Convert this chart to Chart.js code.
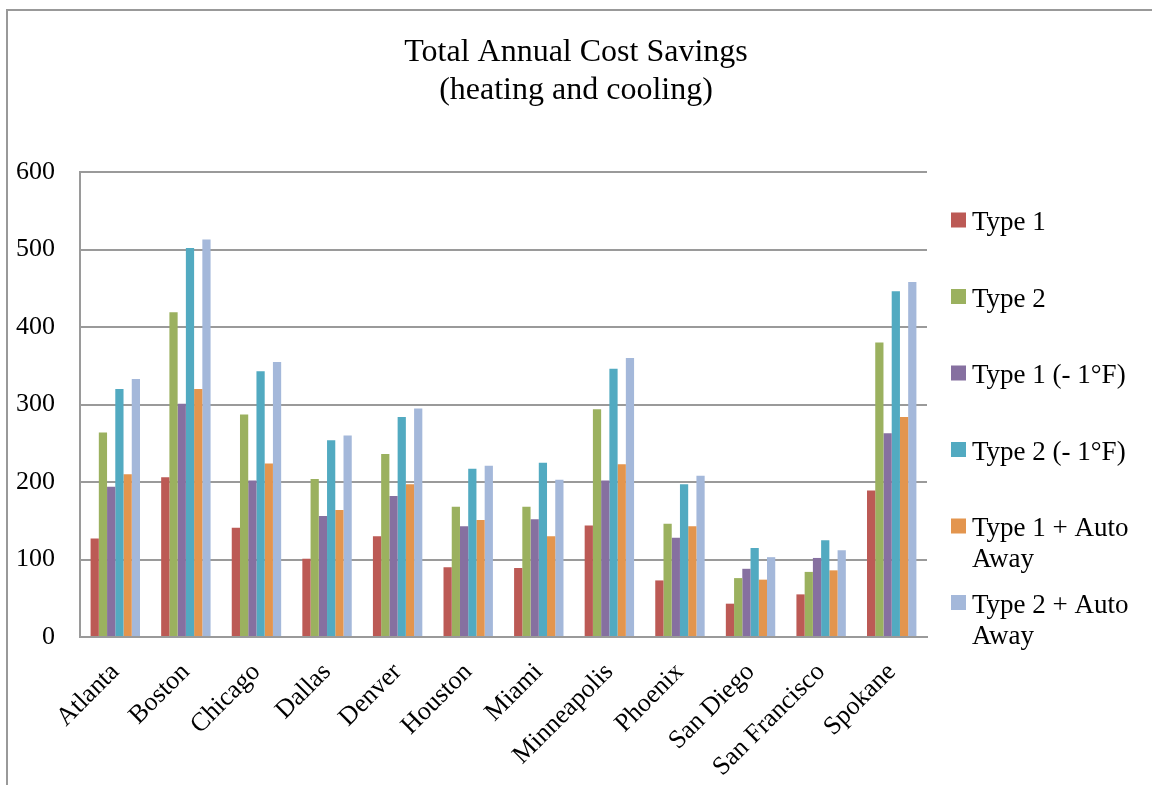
<!DOCTYPE html>
<html>
<head>
<meta charset="utf-8">
<title>Total Annual Cost Savings</title>
<script src="https://cdn.jsdelivr.net/npm/chart.js@4.4.1/dist/chart.umd.min.js"></script>
<style>
  html, body { margin: 0; padding: 0; background: #ffffff; overflow: hidden; }
  #wrap { position: relative; width: 1152px; height: 785px; }
</style>
</head>
<body>
<div id="wrap"><canvas id="chart" width="1152" height="785"></canvas></div>
<script>
// City categories along the x axis
const cities = ['Atlanta', 'Boston', 'Chicago', 'Dallas', 'Denver', 'Houston',
                'Miami', 'Minneapolis', 'Phoenix', 'San Diego', 'San Francisco', 'Spokane'];

// Series names
const seriesNames = ['Type 1', 'Type 2', 'Type 1 (- 1°F)', 'Type 2 (- 1°F)',
                     'Type 1 + Auto Away', 'Type 2 + Auto Away'];

// Annual savings per city, one array per series
const type1          = [127, 206, 141, 101, 130,  90,  89, 144,  73,  43,  55, 189];
const type2          = [264, 419, 287, 204, 236, 168, 168, 294, 146,  76,  84, 380];
const type1Minus1F   = [194, 301, 202, 156, 182, 143, 152, 202, 128,  88, 102, 263];
const type2Minus1F   = [320, 502, 343, 254, 284, 217, 225, 346, 197, 115, 125, 446];
const type1AutoAway  = [210, 320, 224, 164, 197, 151, 130, 223, 143,  74,  86, 284];
const type2AutoAway  = [333, 513, 355, 260, 295, 221, 203, 360, 208, 103, 112, 458];

// Y axis tick values
const yTicks = [0, 100, 200, 300, 400, 500, 600];

const seriesValues = [type1, type2, type1Minus1F, type2Minus1F, type1AutoAway, type2AutoAway];
const seriesColors = ['#BC5A55', '#9BB15F', '#8670A0', '#52AAC1', '#E3954E', '#A4B8DA'];

const FONT = '"Liberation Serif", "Times New Roman", serif';
const GRID = '#9a9a9a';

// Frame lines on the left and top edge of the chart box
const framePlugin = {
  id: 'frame',
  beforeDraw(chart) {
    const ctx = chart.ctx;
    ctx.save();
    ctx.strokeStyle = '#999999';
    ctx.lineWidth = 2;
    ctx.beginPath();
    ctx.moveTo(7, chart.height);
    ctx.lineTo(7, 10);
    ctx.lineTo(chart.width, 10);
    ctx.stroke();
    ctx.restore();
  }
};

// Two-line title centred over the chart
const titlePlugin = {
  id: 'twoLineTitle',
  afterDraw(chart) {
    const ctx = chart.ctx;
    ctx.save();
    ctx.fillStyle = '#000';
    ctx.font = '32px ' + FONT;
    ctx.textAlign = 'center';
    ctx.textBaseline = 'alphabetic';
    ctx.fillText('Total Annual Cost Savings', 576, 61);
    ctx.fillText('(heating and cooling)', 576, 99);
    ctx.restore();
  }
};

// Legend to the right of the plot with word-wrapped labels
const sideLegendPlugin = {
  id: 'sideLegend',
  afterDraw(chart) {
    const ctx = chart.ctx;
    const area = chart.chartArea;
    const boxX = 951, box = 15, textX = 972, lineH = 31, step = 76.5;
    ctx.save();
    ctx.font = '27px ' + FONT;
    ctx.textBaseline = 'middle';
    ctx.textAlign = 'left';
    const maxW = chart.width - textX - 4;
    chart.data.datasets.forEach((ds, i) => {
      const cy = area.top + 48 + i * step;
      ctx.fillStyle = ds.backgroundColor;
      ctx.fillRect(boxX, cy - box / 2, box, box);
      // wrap words into lines
      const words = ds.label.split(' ');
      const lines = [];
      let cur = '';
      words.forEach(w => {
        const t = cur ? cur + ' ' + w : w;
        if (cur && ctx.measureText(t).width > maxW) { lines.push(cur); cur = w; }
        else cur = t;
      });
      if (cur) lines.push(cur);
      ctx.fillStyle = '#000';
      lines.forEach((ln, k) => ctx.fillText(ln, textX, cy + 3 + k * lineH));
    });
    ctx.restore();
  }
};

new Chart(document.getElementById('chart'), {
  type: 'bar',
  data: {
    labels: cities,
    datasets: seriesNames.map((name, i) => ({
      label: name,
      data: seriesValues[i],
      backgroundColor: seriesColors[i],
      borderWidth: 0,
      barPercentage: 1.0,
      categoryPercentage: 0.70
    }))
  },
  options: {
    responsive: false,
    animation: false,
    devicePixelRatio: 1,
    layout: { padding: { top: 172, right: 225, left: 0, bottom: 0 } },
    plugins: {
      legend: { display: false },
      title: { display: false },
      tooltip: { enabled: false }
    },
    scales: {
      x: {
        grid: { display: false, drawTicks: false },
        border: { display: true, color: GRID, width: 2 },
        ticks: {
          color: '#000',
          font: { family: FONT, size: 26 },
          maxRotation: 45,
          minRotation: 45,
          padding: 20,
          autoSkip: false
        },
        afterFit(scale) { scale.height = 148; }
      },
      y: {
        min: 0,
        max: 600,
        afterBuildTicks(scale) { scale.ticks = yTicks.map(v => ({ value: v })); },
        grid: { color: GRID, lineWidth: 2, drawTicks: false },
        border: { display: true, color: GRID, width: 2 },
        ticks: {
          color: '#000',
          font: { family: FONT, size: 26 },
          padding: 25
        },
        afterFit(scale) { scale.width = 80; }
      }
    }
  },
  plugins: [framePlugin, titlePlugin, sideLegendPlugin]
});
</script>
</body>
</html>
